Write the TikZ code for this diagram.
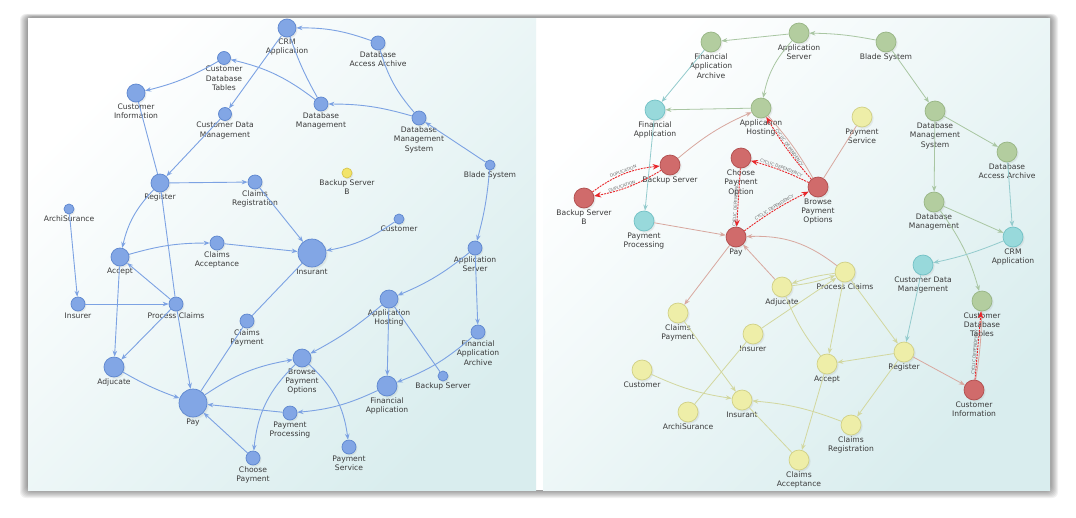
\documentclass[tikz,border=0pt]{standalone}
\usepackage{fontspec}
\setmainfont{DejaVu Sans}
\usepackage{tikz}
\usetikzlibrary{arrows.meta,shadows}
\definecolor{ublu}{HTML}{82A6E5}
\definecolor{ubld}{HTML}{5E87CF}
\definecolor{ubed}{HTML}{7CA2E3}
\definecolor{uyb}{HTML}{F2E46A}
\definecolor{uybd}{HTML}{D9C64A}
\definecolor{ugrn}{HTML}{B3CD9F}
\definecolor{ugrd}{HTML}{97B584}
\definecolor{ucyn}{HTML}{98D9DB}
\definecolor{ucyd}{HTML}{72C1C5}
\definecolor{ured}{HTML}{D06B6B}
\definecolor{uredd}{HTML}{B04D4D}
\definecolor{uyel}{HTML}{EEEEA8}
\definecolor{uyeld}{HTML}{D0D085}
\definecolor{ugre}{HTML}{A9C6A2}
\definecolor{ucye}{HTML}{93CBCD}
\definecolor{upke}{HTML}{D8A89F}
\definecolor{uyee}{HTML}{D2D79E}
\definecolor{uhot}{HTML}{E8262A}
\definecolor{utxt}{HTML}{3A3A3A}
\definecolor{upbg}{HTML}{D9EDEE}
\newcommand{\lblfont}{\fontsize{7.6}{9.4}\selectfont}
\newcommand{\hotfont}{\fontsize{4.2}{5}\selectfont}
\tikzset{
  lbl/.style   ={font=\lblfont, text=utxt, align=center, inner sep=1pt},
  hlbl/.style  ={font=\hotfont, text=utxt!75, sloped, above, inner sep=0.6pt},
  dot/.style   ={circle, inner sep=0pt, line width=0.7pt, label distance=1.5pt,
                 circular drop shadow={opacity=0.15, shadow xshift=0.8pt, shadow yshift=-1pt, shadow scale=1.1}},
  bdot/.style  ={dot, draw=ubld, fill=ublu},
  ybdot/.style ={dot, draw=uybd, fill=uyb},
  gdot/.style  ={dot, draw=ugrd, fill=ugrn, minimum size=20pt},
  cdot/.style  ={dot, draw=ucyd, fill=ucyn, minimum size=20pt},
  rdot/.style  ={dot, draw=uredd, fill=ured, minimum size=20pt},
  ydot/.style  ={dot, draw=uyeld, fill=uyel, minimum size=20pt},
  bline/.style ={line width=0.9pt, draw=ubed},
  bflow/.style ={bline, -{Stealth[length=6pt, width=4.5pt]}},
  gflow/.style ={line width=0.8pt, draw=ugre, -{Stealth[length=6pt, width=4.5pt]}},
  cflow/.style ={line width=0.8pt, draw=ucye, -{Stealth[length=6pt, width=4.5pt]}},
  pline/.style ={line width=0.8pt, draw=upke},
  pflow/.style ={pline, -{Stealth[length=6pt, width=4.5pt]}},
  yline/.style ={line width=0.8pt, draw=uyee},
  yflow/.style ={yline, -{Stealth[length=6pt, width=4.5pt]}},
  hot/.style   ={-{Stealth[length=7pt, width=5.5pt]}, draw=uhot, line width=0.9pt,
                 dash pattern=on 2pt off 1pt},
}
\begin{document}
\begin{tikzpicture}[x=1pt, y=-1pt]
  \useasboundingbox (0,0) rectangle (1076,517);
  \fill[white] (0,0) rectangle (1076,517);
  \foreach \s in {1,...,8}
    \fill[black, opacity=0.055, rounded corners=6pt] ({28-\s},{17-0.4*\s}) rectangle ({1050+\s},{490+\s});
  \fill[white] (536,18) rectangle (543,490);
  \shade[top color=white, bottom color=upbg, shading angle=45] (28,18) rectangle (536,490);
  \shade[top color=white, bottom color=upbg, shading angle=45] (543,18) rectangle (1050,490);

  \begin{scope}
  \clip (28,18) rectangle (536,490);
  \node[bdot, minimum size=18pt, label={[lbl]below:{CRM\\Application}}] (crm) at (287,28) {};
  \node[bdot, minimum size=14pt, label={[lbl]below:{Database\\Access Archive}}] (daa) at (378,43) {};
  \node[bdot, minimum size=13pt, label={[lbl]below:{Customer\\Database\\Tables}}] (cdt) at (224,58) {};
  \node[bdot, minimum size=18pt, label={[lbl]below:{Customer\\Information}}] (cinf) at (136,93) {};
  \node[bdot, minimum size=13pt, label={[lbl]below:{Customer Data\\Management}}] (cdm) at (225,114) {};
  \node[bdot, minimum size=14pt, label={[lbl]below:{Database\\Management}}] (dbm) at (321,104) {};
  \node[bdot, minimum size=14pt, label={[lbl]below:{Database\\Management\\System}}] (dbms) at (419,118) {};
  \node[bdot, minimum size=10pt, label={[lbl]below:{Blade System}}] (blade) at (490,165) {};
  \node[ybdot, minimum size=10pt, label={[lbl]below:{Backup Server\\B}}] (bkpb) at (347,173) {};
  \node[bdot, minimum size=18pt, label={[lbl]below:{Register}}] (reg) at (160,183) {};
  \node[bdot, minimum size=14pt, label={[lbl]below:{Claims\\Registration}}] (creg) at (255,182) {};
  \node[bdot, minimum size=10pt, label={[lbl]below:{ArchiSurance}}] (archi) at (69,209) {};
  \node[bdot, minimum size=10pt, label={[lbl]below:{Customer}}] (cust) at (399,219) {};
  \node[bdot, minimum size=28pt, label={[lbl]below:{Insurant}}] (insd) at (312,253) {};
  \node[bdot, minimum size=14pt, label={[lbl]below:{Claims\\Acceptance}}] (cacc) at (217,243) {};
  \node[bdot, minimum size=18pt, label={[lbl]below:{Accept}}] (acc) at (120,257) {};
  \node[bdot, minimum size=14pt, label={[lbl]below:{Application\\Server}}] (asrv) at (475,248) {};
  \node[bdot, minimum size=14pt, label={[lbl]below:{Insurer}}] (insr) at (78,304) {};
  \node[bdot, minimum size=14pt, label={[lbl]below:{Process Claims}}] (pcl) at (176,304) {};
  \node[bdot, minimum size=14pt, label={[lbl]below:{Claims\\Payment}}] (cpay) at (247,321) {};
  \node[bdot, minimum size=18pt, label={[lbl]below:{Application\\Hosting}}] (ahost) at (389,299) {};
  \node[bdot, minimum size=14pt, label={[lbl]below:{Financial\\Application\\Archive}}] (faa) at (478,332) {};
  \node[bdot, minimum size=20pt, label={[lbl]below:{Adjucate}}] (adj) at (114,367) {};
  \node[bdot, minimum size=28pt, label={[lbl]below:{Pay}}] (pay) at (193,403) {};
  \node[bdot, minimum size=18pt, label={[lbl]below:{Browse\\Payment\\Options}}] (bpo) at (302,358) {};
  \node[bdot, minimum size=10pt, label={[lbl]below:{Backup Server}}] (bkp) at (443,376) {};
  \node[bdot, minimum size=20pt, label={[lbl]below:{Financial\\Application}}] (fapp) at (387,386) {};
  \node[bdot, minimum size=14pt, label={[lbl]below:{Payment\\Processing}}] (ppro) at (290,413) {};
  \node[bdot, minimum size=14pt, label={[lbl]below:{Choose\\Payment}}] (chp) at (253,458) {};
  \node[bdot, minimum size=14pt, label={[lbl]below:{Payment\\Service}}] (psrv) at (349,447) {};

  \draw[bflow] (daa) to[bend right=10] (crm);
  \draw[bflow] (crm) -- (cdm);
  \draw[bflow] (dbm) to[bend right=12] (cdt);
  \draw[bline] (crm) to[bend right=5] (dbm);
  \draw[bflow] (dbms) to[bend right=8] (dbm);
  \draw[bline] (daa) to[bend right=12] (dbms);
  \draw[bflow] (blade) -- (dbms);
  \draw[bflow] (blade) to[bend left=5] (asrv);
  \draw[bflow] (asrv) to[bend left=8] (ahost);
  \draw[bflow] (asrv) -- (faa);
  \draw[bflow] (ahost) -- (fapp);
  \draw[bline] (ahost) -- (bkp);
  \draw[bflow] (faa) to[bend left=10] (fapp);
  \draw[bflow] (ahost) to[bend left=6] (bpo);
  \draw[bflow] (fapp) to[bend left=10] (ppro);
  \draw[bflow] (ppro) -- (pay);
  \draw[bflow] (bpo) to[bend left=20] (psrv);
  \draw[bflow] (bpo) to[bend right=20] (chp);
  \draw[bflow] (chp) -- (pay);
  \draw[bflow] (pay) to[bend left=12] (bpo);
  \draw[bline] (pay) -- (cpay);
  \draw[bline] (cpay) -- (insd);
  \draw[bflow] (creg) -- (insd);
  \draw[bflow] (cacc) -- (insd);
  \draw[bflow] (cust) to[bend left=12] (insd);
  \draw[bflow] (reg) -- (creg);
  \draw[bflow] (cdm) -- (reg);
  \draw[bline] (cinf) -- (reg);
  \draw[bflow] (cdt) to[bend left=8] (cinf);
  \draw[bflow] (reg) to[bend right=15] (acc);
  \draw[bline] (reg) -- (pcl);
  \draw[bflow] (pcl) -- (pay);
  \draw[bflow] (acc) to[bend left=8] (cacc);
  \draw[bflow] (pcl) -- (acc);
  \draw[bflow] (acc) -- (adj);
  \draw[bflow] (pcl) -- (adj);
  \draw[bflow] (insr) -- (pcl);
  \draw[bflow] (archi) -- (insr);
  \draw[bflow] (adj) to[bend right=5] (pay);
  \end{scope}

  \begin{scope}
  \clip (543,18) rectangle (1050,490);
  \node[gdot, label={[lbl]below:{Application\\Server}}] (rasrv) at (799,33) {};
  \node[gdot, label={[lbl]below:{Blade System}}] (rblade) at (886,42) {};
  \node[gdot, label={[lbl]below:{Financial\\Application\\Archive}}] (rfaa) at (711,42) {};
  \node[cdot, label={[lbl]below:{Financial\\Application}}] (rfapp) at (655,110) {};
  \node[gdot, label={[lbl]below:{Application\\Hosting}}] (rhost) at (761,108) {};
  \node[ydot, label={[lbl]below:{Payment\\Service}}] (rpsrv) at (862,117) {};
  \node[gdot, label={[lbl]below:{Database\\Management\\System}}] (rdbms) at (935,111) {};
  \node[rdot, label={[lbl]below:{Backup Server}}] (rbkp) at (670,165) {};
  \node[rdot, label={[lbl]below:{Choose\\Payment\\Option}}] (rchp) at (741,158) {};
  \node[rdot, label={[lbl]below:{Browse\\Payment\\Options}}] (rbpo) at (818,187) {};
  \node[gdot, label={[lbl]below:{Database\\Access Archive}}] (rdaa) at (1007,152) {};
  \node[rdot, label={[lbl]below:{Backup Server\\B}}] (rbkpb) at (584,198) {};
  \node[cdot, label={[lbl]below:{Payment\\Processing}}] (rppro) at (644,221) {};
  \node[rdot, label={[lbl]below:{Pay}}] (rpay) at (736,237) {};
  \node[gdot, label={[lbl]below:{Database\\Management}}] (rdbm) at (934,202) {};
  \node[cdot, label={[lbl]below:{CRM\\Application}}] (rcrm) at (1013,237) {};
  \node[cdot, label={[lbl]below:{Customer Data\\Management}}] (rcdm) at (923,265) {};
  \node[ydot, label={[lbl]below:{Process Claims}}] (rpcl) at (845,272) {};
  \node[ydot, label={[lbl]below:{Adjucate}}] (radj) at (782,287) {};
  \node[gdot, label={[lbl]below:{Customer\\Database\\Tables}}] (rcdt) at (982,301) {};
  \node[ydot, label={[lbl]below:{Claims\\Payment}}] (rcpay) at (678,313) {};
  \node[ydot, label={[lbl]below:{Insurer}}] (rinsr) at (753,334) {};
  \node[ydot, label={[lbl]below:{Register}}] (rreg) at (904,352) {};
  \node[ydot, label={[lbl]below:{Accept}}] (racc) at (827,364) {};
  \node[ydot, label={[lbl]below:{Customer}}] (rcust) at (642,370) {};
  \node[rdot, label={[lbl]below:{Customer\\Information}}] (rcinf) at (974,390) {};
  \node[ydot, label={[lbl]below:{Insurant}}] (rinsd) at (742,400) {};
  \node[ydot, label={[lbl]below:{ArchiSurance}}] (rarchi) at (688,412) {};
  \node[ydot, label={[lbl]below:{Claims\\Registration}}] (rcreg) at (851,425) {};
  \node[ydot, label={[lbl]below:{Claims\\Acceptance}}] (rcacc) at (799,460) {};

  \draw[gflow] (rblade) to[bend right=5] (rasrv);
  \draw[gflow] (rasrv) -- (rfaa);
  \draw[gflow] (rasrv) to[bend right=15] (rhost);
  \draw[gflow] (rblade) -- (rdbms);
  \draw[gflow] (rdbms) -- (rdaa);
  \draw[gflow] (rdbms) -- (rdbm);
  \draw[cflow] (rdaa) -- (rcrm);
  \draw[gflow] (rdbm) -- (rcrm);
  \draw[gflow] (rdbm) to[bend left=10] (rcdt);
  \draw[cflow] (rfaa) -- (rfapp);
  \draw[gflow] (rhost) -- (rfapp);
  \draw[cflow] (rfapp) -- (rppro);
  \draw[cflow] (rcrm) to[bend left=5] (rcdm);
  \draw[cflow] (rcdm) -- (rreg);
  \draw[pflow] (rbkp) to[bend left=8] (rhost);
  \draw[pflow] (rppro) -- (rpay);
  \draw[pflow] (rpcl) to[bend right=20] (rpay);
  \draw[pflow] (radj) -- (rpay);
  \draw[pflow] (rpay) -- (rcpay);
  \draw[pline] (rbpo) -- (rpsrv);
  \draw[pflow] (rreg) -- (rcinf);
  \draw[pline] (rhost) to[bend left=6] (rbpo);
  \draw[pline] (rcdt) to[bend left=4] (rcinf);
  \draw[yflow] (rpcl) to[bend right=6] (radj);
  \draw[yflow] (radj) to[bend right=6] (rpcl);
  \draw[yflow] (rinsr) -- (rpcl);
  \draw[yline] (rarchi) -- (rinsr);
  \draw[yflow] (rpcl) -- (racc);
  \draw[yflow] (rpcl) -- (rreg);
  \draw[yline] (radj) to[bend right=8] (racc);
  \draw[yflow] (rreg) -- (racc);
  \draw[yflow] (rreg) -- (rcreg);
  \draw[yflow] (racc) -- (rcacc);
  \draw[yline] (rcacc) -- (rinsd);
  \draw[yflow] (rcreg) to[bend right=8] (rinsd);
  \draw[yflow] (rcust) to[bend right=8] (rinsd);
  \draw[yflow] (rcpay) -- (rinsd);
  \draw[hot] (rbkpb) to[bend left=15] node[hlbl] {DUPLICATION} (rbkp);
  \draw[hot] (rbkp) to[bend left=10] node[hlbl, pos=0.6] {DUPLICATION} (rbkpb);
  \draw[hot] (rbpo) to[bend left=5] node[hlbl] {CYCLIC DEPENDENCY} (rhost);
  \draw[hot] (rbpo) to[bend right=5] node[hlbl] {CYCLIC DEPENDENCY} (rchp);
  \draw[hot] (rpay) to[bend left=5] node[hlbl] {CYCLIC DEPENDENCY} (rbpo);
  \draw[hot] (rchp) -- node[hlbl, pos=0.62] {CYCLIC DEPENDENCY} (rpay);
  \draw[hot] (rcinf) -- node[hlbl, pos=0.4] {CYCLIC DEPENDENCY} (rcdt);
  \end{scope}
\end{tikzpicture}
\end{document}
